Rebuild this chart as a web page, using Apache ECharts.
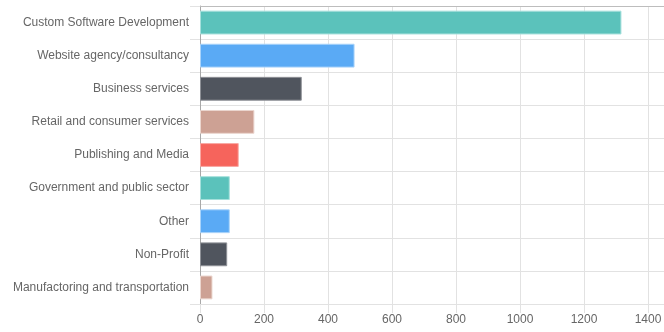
<!DOCTYPE html>
<html>
<head>
<meta charset="utf-8">
<script src="https://cdn.jsdelivr.net/npm/echarts@6/dist/echarts.min.js"></script>
<style>html,body{margin:0;padding:0;background:#fff}#c{width:664px;height:332px}</style>
</head>
<body>
<div id="c"></div>
<script>
const categories = ["Custom Software Development","Website agency/consultancy","Business services","Retail and consumer services","Publishing and Media","Government and public sector","Other","Non-Profit","Manufactoring and transportation"];
const values = [1317, 483, 318, 170, 121, 93, 93, 85, 39];
const xTicks = [0, 200, 400, 600, 800, 1000, 1200, 1400];

const fills = ["#5BC2BB","#5AAAF5","#50555E","#CDA194","#F6645C"];
const borders = ["#A6E0DC","#A9D3FA","#8E9197","#EBD6CF","#F9A9A4"];

const chart = echarts.init(document.getElementById('c'));
const font = "'Liberation Sans', Arial, Helvetica, sans-serif";
chart.setOption({
  animation: false,
  grid: { left: 200, right: -48, top: 6, bottom: 28, outerBoundsMode: 'none', containLabel: false },
  xAxis: [{
    type: 'value', min: 0, max: 1600, interval: 200, position: 'bottom',
    axisLine: { show: false },
    axisTick: { show: true, length: 9, lineStyle: { color: '#e2e2e2' } },
    splitLine: { show: true, lineStyle: { color: '#e2e2e2' } },
    axisLabel: { color: '#666', fontFamily: font, fontSize: 12, margin: 10,
      formatter: v => xTicks.indexOf(v) >= 0 ? String(v) : '' }
  }, {
    type: 'value', min: 0, max: 1600, position: 'top',
    axisLine: { show: true, lineStyle: { color: '#bdbdbd' } },
    axisTick: { show: false }, axisLabel: { show: false }, splitLine: { show: false }
  }],
  yAxis: {
    type: 'category', data: categories, inverse: true,
    axisLine: { show: true, lineStyle: { color: '#a8a8a8' } },
    axisTick: { show: true, length: 10, lineStyle: { color: '#e2e2e2' } },
    splitLine: { show: true, lineStyle: { color: '#e2e2e2' } },
    axisLabel: { color: '#666', fontFamily: font, fontSize: 12, margin: 11 }
  },
  series: [{
    type: 'bar', xAxisIndex: 0, barCategoryGap: '28%',
    data: values.map((v, i) => ({
      value: v,
      itemStyle: { color: fills[i % fills.length], borderColor: borders[i % borders.length], borderWidth: 1 }
    }))
  }]
});
</script>
</body>
</html>
